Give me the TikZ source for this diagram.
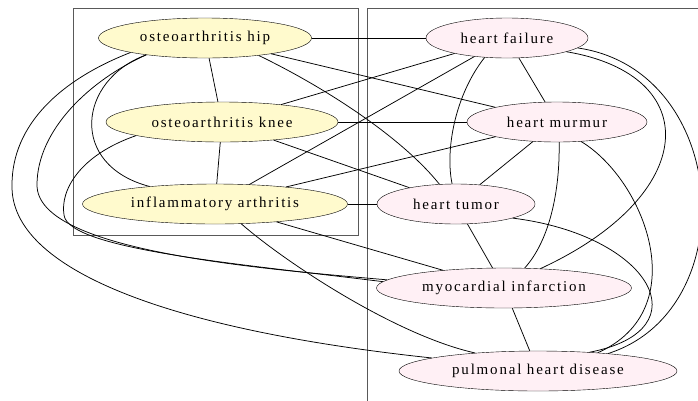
\documentclass[tikz,border=0pt]{standalone}
\usepackage{fontspec}
\setmainfont{Liberation Serif}
\newfontfamily\labelfont[LetterSpace=12]{Liberation Serif}
\usetikzlibrary{shapes.geometric}
\definecolor{lemonchiffon}{RGB}{255,250,205}
\definecolor{lavenderblush}{RGB}{255,240,245}
\tikzset{
	joint/.style={draw, ellipse, inner sep=0pt, minimum height=40pt, fill=lemonchiffon, font=\labelfont\fontsize{15}{18}\selectfont},
	heart/.style={joint, fill=lavenderblush},
	cluster/.style={draw=black!65, line width=1pt},
	link/.style={line width=0.75pt}
}

\begin{document}
\begin{tikzpicture}[x=1pt, y=-1pt]
	\useasboundingbox (0,0) rectangle (698,400);
	\clip (0,0) rectangle (698,400);
	% the two groups
	\draw[cluster] (73,8) rectangle (358,235);
	\draw[cluster] (367,8) rectangle (720,420);

	\node[joint, minimum width=213pt] (hip) at (205,38) {osteoarthritis hip};
	\node[joint, minimum width=232pt] (knee) at (222,122) {osteoarthritis knee};
	\node[joint, minimum width=265pt] (infl) at (215,204) {inflammatory arthritis};
	\node[heart, minimum width=162pt] (failure) at (507,38) {heart failure};
	\node[heart, minimum width=180pt] (murmur) at (557,122) {heart murmur};
	\node[heart, minimum width=158pt] (tumor) at (456,204) {heart tumor};
	\node[heart, minimum width=255pt] (infarct) at (504,288) {myocardial infarction};
	\node[heart, minimum width=278pt] (pulmonal) at (538,371) {pulmonal heart disease};

	% joints
	\draw[link] (hip) -- (knee);
	\draw[link] (knee) -- (infl);
	\draw[link] (hip.196) .. controls (78,80) and (68,165) .. (infl.165);
	\draw[link] (hip) -- (failure);
	\draw[link] (hip) -- (murmur);
	\draw[link] (hip.-18) .. controls (320,85) and (400,135) .. (tumor.130);
	\draw[link] (hip.196) .. controls (90,80) and (37,130) .. (37,185) .. controls (37,250) and (250,268) .. (infarct.176);
	\draw[link] (hip.191) .. controls (60,80) and (12,125) .. (12,185) .. controls (10,270) and (170,330) .. (pulmonal.173);
	\draw[link] (knee) -- (failure);
	\draw[link] (knee) -- (murmur);
	\draw[link] (knee) -- (tumor);
	\draw[link] (knee.189) .. controls (80,155) and (60,190) .. (64,215) .. controls (68,250) and (250,265) .. (infarct.177);
	\draw[link] (infl) -- (failure);
	\draw[link] (infl) -- (murmur);
	\draw[link] (infl) -- (tumor);
	\draw[link] (infl) -- (infarct);
	\draw[link] (infl.-37) .. controls (285,262) and (395,335) .. (pulmonal.164);

	% heart
	\draw[link] (failure) -- (murmur);
	\draw[link] (failure.-139) .. controls (455,95) and (445,150) .. (tumor.101);
	\draw[link] (failure.-13) .. controls (705,75) and (700,195) .. (infarct.28);
	\draw[link] (failure.-8) .. controls (730,70) and (745,310) .. (pulmonal.14);
	\draw[link] (murmur) -- (tumor);
	\draw[link] (murmur.-84) .. controls (560,190) and (550,240) .. (infarct.44);
	\draw[link] (murmur.-39) .. controls (645,180) and (695,310) .. (pulmonal.17);
	\draw[link] (tumor) -- (infarct);
	\draw[link] (tumor.-14) .. controls (650,235) and (705,330) .. (pulmonal.20);
	\draw[link] (infarct) -- (pulmonal);
\end{tikzpicture}
\end{document}
